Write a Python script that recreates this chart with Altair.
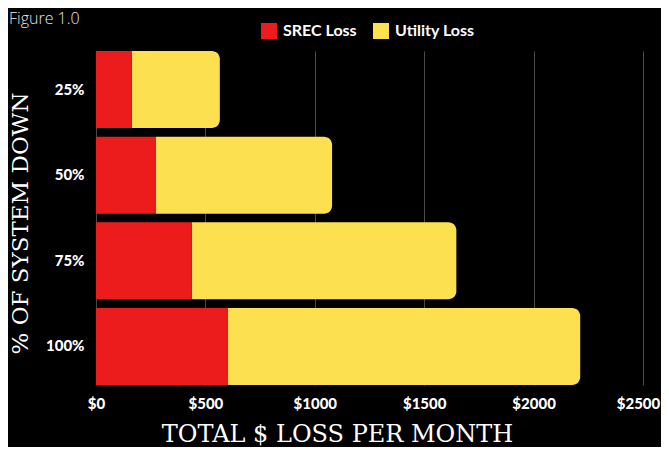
import altair as alt
import pandas as pd

# ---- data ----
levels = ["25%", "50%", "75%", "100%"]
srec_loss = [164, 274, 438, 603]
utility_loss = [402, 805, 1209, 1610]
x_ticks = [0, 500, 1000, 1500, 2000, 2500]
series = ["SREC Loss", "Utility Loss"]
colors = ["#ED1C1C", "#FCE04F"]
caption = ["Figure 1.0"]

rows = []
for lvl, s, u in zip(levels, srec_loss, utility_loss):
    rows.append({"level": lvl, "series": series[0], "start": 0, "end": s})
    rows.append({"level": lvl, "series": series[1], "start": s, "end": s + u})
df = pd.DataFrame(rows)
cap_df = pd.DataFrame({"caption": caption})

LABEL_FONT = "Lato"
TITLE_FONT = "DejaVu Serif"

x_enc = alt.X(
    "start:Q",
    scale=alt.Scale(domain=[0, 2500], nice=False),
    axis=alt.Axis(
        values=x_ticks,
        labelExpr="'$' + datum.value",
        labelFlush=False,
        labelOffset={"condition": {"test": "datum.value == 2500", "value": -5}, "value": 0},
        title="TOTAL $ LOSS PER MONTH",
        titleFont=TITLE_FONT,
        titleFontSize=24,
        titleFontWeight="normal",
        titleColor="#ffffff",
        titleX=241,
        titleY=56,
        titleBaseline="alphabetic",
        labelFont=LABEL_FONT,
        labelFontSize=15,
        labelFontWeight=900,
        labelColor="#ffffff",
        labelPadding=11,
        ticks=False,
        domain=False,
        grid=True,
        gridColor="#4a4a4a",
        gridWidth=1,
    ),
)
y_enc = alt.Y(
    "level:N",
    sort=levels,
    scale=alt.Scale(paddingInner=0.1, paddingOuter=0),
    axis=alt.Axis(
        title="% OF SYSTEM DOWN",
        titleFont=TITLE_FONT,
        titleFontSize=23,
        titleFontWeight="normal",
        titleColor="#ffffff",
        titleAngle=270,
        titleX=-69,
        titleY=172,
        titleBaseline="alphabetic",
        labelFont=LABEL_FONT,
        labelFontSize=15,
        labelFontWeight=900,
        labelColor="#ffffff",
        labelPadding=12,
        ticks=False,
        domain=False,
        grid=False,
    ),
)
color_enc = alt.Color(
    "series:N",
    scale=alt.Scale(domain=series, range=colors),
    legend=alt.Legend(
        title=None,
        orient="none",
        direction="horizontal",
        legendX=165,
        legendY=-28,
        symbolType="square",
        symbolSize=256,
        symbolStrokeWidth=0,
        symbolOpacity=1,
        labelFont=LABEL_FONT,
        labelFontSize=16,
        labelFontWeight="bold",
        labelColor="#ffffff",
        labelOffset=6,
        columnPadding=16,
        padding=0,
    ),
)

base = alt.Chart(df)
util = base.transform_filter(alt.datum.series == "Utility Loss").mark_bar(
    cornerRadiusTopRight=8, cornerRadiusBottomRight=8
).encode(x=x_enc, x2="end:Q", y=y_enc, color=color_enc)
srec = base.transform_filter(alt.datum.series == "SREC Loss").mark_bar().encode(
    x=x_enc, x2="end:Q", y=y_enc, color=color_enc
)
cap = alt.Chart(cap_df).mark_text(
    align="left",
    baseline="alphabetic",
    font="Open Sans",
    fontSize=16,
    fontWeight=300,
    color="#e6e6e6",
).encode(text="caption:N", x=alt.value(-87), y=alt.value(-27))

chart = (
    alt.layer(util, srec, cap)
    .properties(
        width=547,
        height=334,
        background="#000000",
        autosize=alt.AutoSizeParams(type="none"),
        padding={"left": 88, "top": 43, "right": 18, "bottom": 62},
    )
    .configure_view(stroke=None)
)

chart.save("out.html", embed_options={"renderer": "svg", "actions": False})
